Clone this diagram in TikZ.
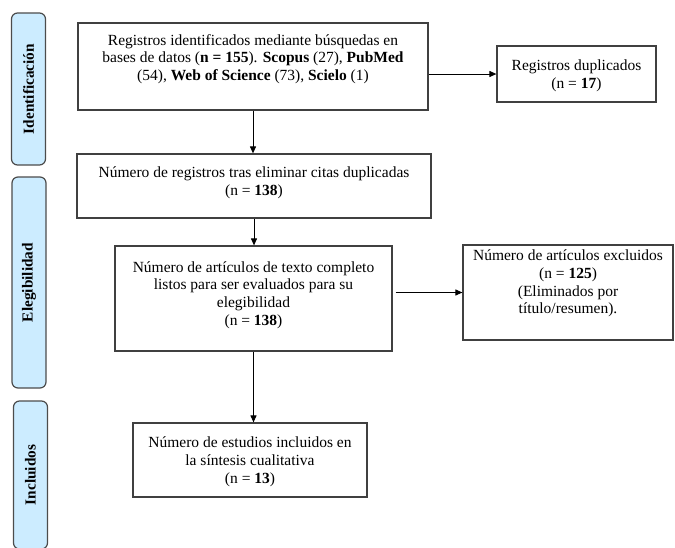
\documentclass[tikz,border=0pt]{standalone}
\usepackage{fontspec}
\setmainfont{Liberation Serif}
\usetikzlibrary{arrows.meta}
\definecolor{celeste}{RGB}{204,236,255}

\begin{document}
\begin{tikzpicture}[x=1pt, y=-1pt, >={Triangle[length=7pt, width=6pt]}, line width=1pt,
  caja/.style={draw=black!75, line width=1.2pt, inner sep=0pt},
  texto/.style={align=center, inner sep=0pt, font=\fontsize{15.5}{17.8}\selectfont},
  fase/.style={draw=black!70, line width=1.2pt, fill=celeste, rounded corners=6pt, rotate=90,
    inner sep=0pt, minimum height=34pt, font=\fontsize{15.3}{17}\selectfont\bfseries}]
  \useasboundingbox (0,0) rectangle (675,547);
  \clip (0,0) rectangle (675,547);
  % fases (barras laterales)
  \node[fase, minimum width=152pt] (fid) at (28.5,89) {Identificación};
  \node[fase, minimum width=211pt] (fel) at (29,282.5) {Elegibilidad};
  \node[fase, minimum width=148pt] (fin) at (30.5,475) {Incluidos};
  % cajas
  \node[caja, minimum width=350pt, minimum height=87pt] (reg) at (253,66.5) {};
  \node[caja, minimum width=159pt, minimum height=56pt] (dup) at (576.5,74) {};
  \node[caja, minimum width=354pt, minimum height=64pt] (uniq) at (254,186) {};
  \node[caja, minimum width=277pt, minimum height=105pt] (full) at (253.5,298.5) {};
  \node[caja, minimum width=210pt, minimum height=95pt] (excl) at (568,292.5) {};
  \node[caja, minimum width=234pt, minimum height=74pt] (incl) at (250,460) {};
  % textos
  \node[texto] (regtxt) at (253,59) {Registros identificados mediante búsquedas en\\
    bases de datos (\textbf{n = 155}). \textbf{Scopus} (27), \textbf{PubMed}\\
    (54), \textbf{Web of Science} (73), \textbf{Scielo} (1)};
  \node[texto] (duptxt) at (576.5,76) {Registros duplicados\\ (n = \textbf{17})};
  \node[texto] (uniqtxt) at (254,182.5) {Número de registros tras eliminar citas duplicadas\\
    (n = \textbf{138})};
  \node[texto] (fulltxt) at (253.5,295) {Número de artículos de texto completo\\
    listos para ser evaluados para su\\ elegibilidad\\ (n = \textbf{138})};
  \node[texto] (excltxt) at (568,283.5) {Número de artículos excluidos\\ (n = \textbf{125})\\
    (Eliminados por\\ título/resumen).};
  \node[texto] (incltxt) at (250,462) {Número de estudios incluidos en\\
    la síntesis cualitativa\\ (n = \textbf{13})};
  % flechas
  \draw[->] (reg.east |- dup.west) -- (dup.west);
  \draw[->] (reg.south) -- (reg.south |- uniq.north);
  \draw[->] (uniq.south) -- (uniq.south |- full.north);
  \draw[->, shorten <=3pt] (full.east |- excl.west) -- (excl.west);
  \draw[->] (full.south) -- (full.south |- incl.north);
\end{tikzpicture}
\end{document}
